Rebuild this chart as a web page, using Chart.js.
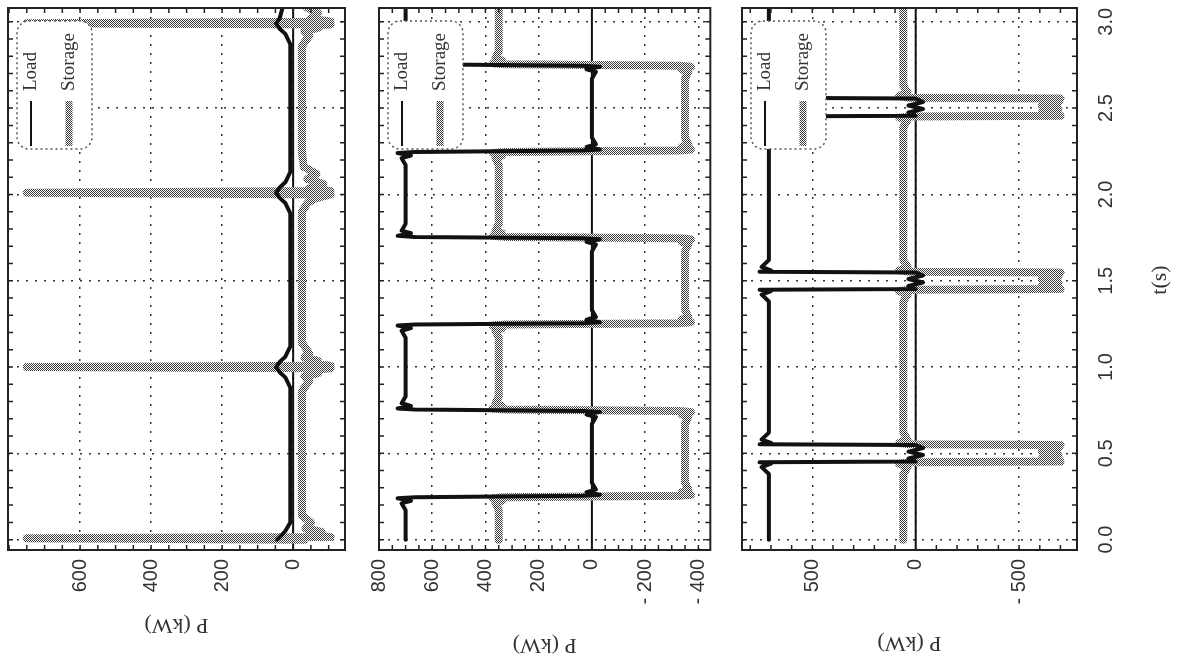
<!DOCTYPE html>
<html>
<head>
<meta charset="utf-8">
<script src="https://cdn.jsdelivr.net/npm/chart.js@4.4.1/dist/chart.umd.min.js"></script>
<style>
  html, body { margin: 0; padding: 0; background: #fff; }
  #wrap { position: relative; width: 1177px; height: 669px; overflow: hidden; background: #fff; }
  canvas { position: absolute; top: 0; }
</style>
</head>
<body>
<div id="wrap">
  <canvas id="g1" width="370" height="669" style="left:0px"></canvas>
  <canvas id="g2" width="362" height="669" style="left:370px"></canvas>
  <canvas id="g3" width="445" height="669" style="left:732px"></canvas>
</div>
<script>
// time axis (drawn vertically, 0 at the bottom)
const timeTicks = [0, 0.5, 1, 1.5, 2, 2.5, 3];
const timeLabels = ['0.0', '0.5', '1.0', '1.5', '2.0', '2.5', '3.0'];

// panel 1: storage pulses only
const pTicks1 = [600, 400, 200, 0];
const pLabels1 = ['600', '400', '200', '0'];
const tLoad1 = [0, 0.02, 0.05, 0.1, 0.88, 0.94, 0.97, 1.0, 1.03, 1.06, 1.12, 1.89, 1.95, 1.98, 2.01, 2.04, 2.07, 2.13, 2.87, 2.93, 2.96, 2.99, 3.02, 3.08];
const pLoad1 = [45, 35, 22, 8, 8, 22, 38, 48, 38, 22, 8, 8, 22, 38, 48, 38, 22, 8, 8, 22, 38, 48, 38, 30];
const tStorage1 = [0, 0.008, 0.016, 0.03, 0.045, 0.065, 0.1, 0.14,
  0.86, 0.92, 0.945, 0.965, 0.98, 0.993, 1.0, 1.007, 1.02, 1.035, 1.055, 1.08, 1.14,
  1.9, 1.95, 1.975, 2.0, 2.01, 2.02, 2.035, 2.06, 2.09, 2.12, 2.16, 2.24,
  2.86, 2.92, 2.945, 2.965, 2.978, 2.985, 2.992, 3.0, 3.02, 3.05, 3.08];
const pStorage1 = [-30, 750, -105, -45, -80, -35, -50, -25,
  -25, -45, -32, -70, -40, -105, 750, -105, -40, -70, -32, -45, -25,
  -25, -40, -60, -105, 750, -105, -45, -85, -40, -65, -30, -25,
  -25, -45, -32, -70, -40, -105, 750, -105, -50, -70, -40];

// panel 2: load switching 700 / 0
const pTicks2 = [800, 600, 400, 200, 0, -200, -400];
const pLabels2 = ['800', '600', '400', '200', '0', '- 200', '- 400'];
const tLoad2 = [0,
  0.17, 0.21, 0.225, 0.24, 0.246, 0.254, 0.26, 0.275, 0.29, 0.33,
  0.67, 0.71, 0.725, 0.74, 0.746, 0.754, 0.76, 0.775, 0.79, 0.83,
  1.17, 1.21, 1.225, 1.24, 1.246, 1.254, 1.26, 1.275, 1.29, 1.33,
  1.67, 1.71, 1.725, 1.74, 1.746, 1.754, 1.76, 1.775, 1.79, 1.83,
  2.17, 2.21, 2.225, 2.24, 2.246, 2.254, 2.26, 2.275, 2.29, 2.33,
  2.67, 2.71, 2.725, 2.74, 2.746, 2.754, 2.76, 2.775, 2.79, 2.83,
  3.08];
const pLoad2 = [700,
  700, 715, 680, 730, 665, 35, -30, 20, -15, 0,
  0, -15, 20, -30, 35, 665, 730, 680, 715, 700,
  700, 715, 680, 730, 665, 35, -30, 20, -15, 0,
  0, -15, 20, -30, 35, 665, 730, 680, 715, 700,
  700, 715, 680, 730, 665, 35, -30, 20, -15, 0,
  0, -15, 20, -30, 35, 665, 730, 680, 715, 700,
  700];
const tStorage2 = [0,
  0.17, 0.21, 0.225, 0.24, 0.246, 0.254, 0.26, 0.275, 0.29, 0.33,
  0.67, 0.71, 0.725, 0.74, 0.746, 0.754, 0.76, 0.775, 0.79, 0.83,
  1.17, 1.21, 1.225, 1.24, 1.246, 1.254, 1.26, 1.275, 1.29, 1.33,
  1.67, 1.71, 1.725, 1.74, 1.746, 1.754, 1.76, 1.775, 1.79, 1.83,
  2.17, 2.21, 2.225, 2.24, 2.246, 2.254, 2.26, 2.275, 2.29, 2.33,
  2.67, 2.71, 2.725, 2.74, 2.746, 2.754, 2.76, 2.775, 2.79, 2.83,
  3.08];
const pStorage2 = [350,
  350, 362, 338, 372, 328, -328, -372, -338, -362, -350,
  -350, -362, -338, -372, -328, 328, 372, 338, 362, 350,
  350, 362, 338, 372, 328, -328, -372, -338, -362, -350,
  -350, -362, -338, -372, -328, 328, 372, 338, 362, 350,
  350, 362, 338, 372, 328, -328, -372, -338, -362, -350,
  -350, -362, -338, -372, -328, 328, 372, 338, 362, 350,
  350];

// panel 3: load with short drops
const pTicks3 = [500, 0, -500];
const pLabels3 = ['500', '0', '- 500'];
const tLoad3 = [0,
  0.38, 0.42, 0.44, 0.448, 0.452, 0.47, 0.49, 0.51, 0.53, 0.548, 0.552, 0.56, 0.58, 0.62,
  1.38, 1.42, 1.44, 1.448, 1.452, 1.47, 1.49, 1.51, 1.53, 1.548, 1.552, 1.56, 1.58, 1.62,
  2.39, 2.43, 2.445, 2.452, 2.456, 2.475, 2.495, 2.515, 2.535, 2.556, 2.56, 2.57, 2.59, 2.63,
  3.08];
const pLoad3 = [710,
  710, 745, 700, 755, 0, 35, -35, 35, -35, 0, 755, 700, 745, 710,
  710, 745, 700, 755, 0, 35, -35, 35, -35, 0, 755, 700, 745, 710,
  710, 745, 700, 755, 0, 35, -35, 35, -35, 0, 755, 700, 745, 710,
  710];
const tStorage3 = [0,
  0.38, 0.42, 0.44, 0.448, 0.452, 0.47, 0.49, 0.51, 0.53, 0.548, 0.552, 0.56, 0.58, 0.62,
  1.38, 1.42, 1.44, 1.448, 1.452, 1.47, 1.49, 1.51, 1.53, 1.548, 1.552, 1.56, 1.58, 1.62,
  2.39, 2.43, 2.445, 2.452, 2.456, 2.475, 2.495, 2.515, 2.535, 2.556, 2.56, 2.57, 2.59, 2.63,
  3.08];
const pStorage3 = [60,
  60, 40, 80, 30, -700, -610, -690, -610, -690, -700, 30, 80, 40, 60,
  60, 40, 80, 30, -700, -610, -690, -610, -690, -700, 30, 80, 40, 60,
  60, 40, 80, 30, -700, -610, -690, -610, -690, -700, 30, 80, 40, 60,
  60];

function juntar(ts, ps) {
    return ts.map((t, i) => ({ x: ps[i], y: t }));
}

// halftone look of the scanned grey line
function trama(canvas, color) {
    const c = document.createElement('canvas');
    c.width = 2; c.height = 2;
    const g = c.getContext('2d');
    g.fillStyle = '#fff';
    g.fillRect(0, 0, 2, 2);
    g.fillStyle = color;
    g.fillRect(0, 0, 1, 1);
    g.fillRect(1, 1, 1, 1);
    return canvas.getContext('2d').createPattern(c, 'repeat');
}

const decor = {
    id: 'decor',
    beforeDatasetsDraw(chart) {
        const { ctx, chartArea: a, scales } = chart;
        const x0 = scales.x.getPixelForValue(0);
        ctx.save();
        ctx.strokeStyle = '#111';
        ctx.lineWidth = 2;
        ctx.beginPath();
        ctx.moveTo(x0, a.top);
        ctx.lineTo(x0, a.bottom);
        ctx.stroke();
        ctx.restore();
    },
    afterDatasetsDraw(chart, args, opts) {
        const { ctx, chartArea: a, scales } = chart;
        const xs = scales.x, ys = scales.y;
        ctx.save();
        ctx.strokeStyle = '#222';
        ctx.lineWidth = 2;
        ctx.strokeRect(a.left, a.top, a.right - a.left, a.bottom - a.top);
        ctx.lineWidth = 1.5;
        ctx.beginPath();
        for (let k = Math.ceil(xs.min / opts.minorP); k * opts.minorP <= xs.max; k++) {
            const px = xs.getPixelForValue(k * opts.minorP);
            ctx.moveTo(px, a.top); ctx.lineTo(px, a.top + 5);
            ctx.moveTo(px, a.bottom); ctx.lineTo(px, a.bottom - 5);
        }
        for (let k = Math.ceil(ys.min * 10); k / 10 <= ys.max; k++) {
            const py = ys.getPixelForValue(k / 10);
            ctx.moveTo(a.left, py); ctx.lineTo(a.left + 5, py);
            ctx.moveTo(a.right, py); ctx.lineTo(a.right - 5, py);
        }
        ctx.stroke();
        ctx.restore();
    },
    afterDraw(chart, args, opts) {
        const { ctx, chartArea: a, scales } = chart;
        ctx.save();

        // legend box, rotated like the rest of the figure
        const lx = a.left + 9, ly = a.top + 13, lw = 75, lh = 128;
        ctx.beginPath();
        ctx.roundRect(lx, ly, lw, lh, 12);
        ctx.fillStyle = '#fff';
        ctx.fill();
        ctx.setLineDash([2, 3]);
        ctx.strokeStyle = '#555';
        ctx.lineWidth = 1.5;
        ctx.stroke();
        ctx.setLineDash([]);
        chart.data.datasets.forEach((ds, i) => {
            const cx = lx + 14 + i * 38;
            ctx.strokeStyle = ds.borderColor;
            ctx.lineWidth = i === 0 ? 2 : 7;
            ctx.beginPath();
            ctx.moveTo(cx, ly + lh - 3);
            ctx.lineTo(cx, ly + lh - 48);
            ctx.stroke();
            ctx.save();
            ctx.translate(cx, ly + lh - 58);
            ctx.rotate(-Math.PI / 2);
            ctx.fillStyle = '#333';
            ctx.font = '19px "Liberation Serif"';
            ctx.textAlign = 'left';
            ctx.textBaseline = 'middle';
            ctx.fillText(ds.label, 0, 0);
            ctx.restore();
        });

        // axis title under the panel, upside down
        ctx.save();
        ctx.translate((a.left + a.right) / 2, opts.tituloY);
        ctx.rotate(Math.PI);
        ctx.fillStyle = '#333';
        ctx.font = '22px "Liberation Serif"';
        ctx.textAlign = 'center';
        ctx.textBaseline = 'middle';
        ctx.fillText('P (kW)', 0, 0);
        ctx.restore();

        // time labels on the last panel
        if (opts.tiempo) {
            const ys = scales.y;
            ctx.fillStyle = '#333';
            ctx.textAlign = 'center';
            ctx.textBaseline = 'middle';
            timeTicks.forEach((v, i) => {
                ctx.save();
                ctx.translate(a.right + 29, ys.getPixelForValue(v));
                ctx.rotate(-Math.PI / 2);
                ctx.font = '20px "Liberation Sans"';
                ctx.fillText(timeLabels[i], 0, 0);
                ctx.restore();
            });
            ctx.save();
            ctx.translate(a.right + 83, 280);
            ctx.rotate(-Math.PI / 2);
            ctx.font = '22px "Liberation Serif"';
            ctx.fillText('t(s)', 0, 0);
            ctx.restore();
        }
        ctx.restore();
    }
};

function crearPanel(id, cfg) {
    const canvas = document.getElementById(id);
    return new Chart(canvas, {
        type: 'scatter',
        data: {
            datasets: [
                {
                    label: 'Load',
                    data: juntar(cfg.tLoad, cfg.pLoad),
                    showLine: true,
                    borderColor: '#111',
                    borderWidth: 4,
                    pointRadius: 0,
                    borderJoinStyle: 'round',
                    borderCapStyle: 'round'
                },
                {
                    label: 'Storage',
                    data: juntar(cfg.tStorage, cfg.pStorage),
                    showLine: true,
                    borderColor: trama(canvas, '#3a3a3a'),
                    borderWidth: 8,
                    pointRadius: 0,
                    borderJoinStyle: 'round',
                    borderCapStyle: 'round'
                }
            ]
        },
        options: {
            responsive: false,
            animation: false,
            devicePixelRatio: 1,
            events: [],
            layout: {
                autoPadding: false,
                padding: { left: cfg.left, right: cfg.right, top: 8, bottom: 0 }
            },
            plugins: {
                legend: { display: false },
                tooltip: { enabled: false },
                decor: { minorP: cfg.minorP, tituloY: cfg.tituloY, tiempo: cfg.tiempo }
            },
            scales: {
                x: {
                    type: 'linear',
                    reverse: true,
                    min: cfg.min,
                    max: cfg.max,
                    afterBuildTicks: s => { s.ticks = cfg.pTicks.map(v => ({ value: v })); },
                    afterFit: s => { s.height = 119; },
                    ticks: {
                        autoSkip: false,
                        minRotation: 90,
                        maxRotation: 90,
                        padding: 9,
                        color: '#333',
                        font: { family: 'Liberation Sans', size: 20 },
                        callback: v => cfg.pLabels[cfg.pTicks.indexOf(v)]
                    },
                    grid: { color: '#333', lineWidth: 1.5, drawTicks: false },
                    border: { display: false, dash: [2, 7] }
                },
                y: {
                    type: 'linear',
                    min: -0.06,
                    max: 3.08,
                    afterBuildTicks: s => { s.ticks = timeTicks.map(v => ({ value: v })); },
                    afterFit: s => { s.width = 0; },
                    ticks: { display: false },
                    grid: { color: '#333', lineWidth: 1.5, drawTicks: false },
                    border: { display: false, dash: [2, 7] }
                }
            }
        },
        plugins: [decor]
    });
}

crearPanel('g1', {
    tLoad: tLoad1, pLoad: pLoad1, tStorage: tStorage1, pStorage: pStorage1,
    pTicks: pTicks1, pLabels: pLabels1, min: -146, max: 803, minorP: 50,
    left: 8, right: 25, tituloY: 625, tiempo: false
});
crearPanel('g2', {
    tLoad: tLoad2, pLoad: pLoad2, tStorage: tStorage2, pStorage: pStorage2,
    pTicks: pTicks2, pLabels: pLabels2, min: -445, max: 800, minorP: 50,
    left: 7, right: 20, tituloY: 645, tiempo: false
});
crearPanel('g3', {
    tLoad: tLoad3, pLoad: pLoad3, tStorage: tStorage3, pStorage: pStorage3,
    pTicks: pTicks3, pLabels: pLabels3, min: -780, max: 840, minorP: 100,
    left: 10, right: 100, tituloY: 643, tiempo: true
});
</script>
</body>
</html>
